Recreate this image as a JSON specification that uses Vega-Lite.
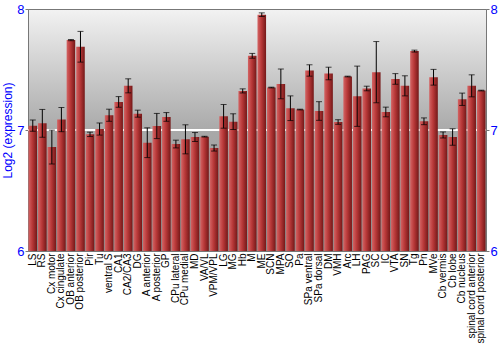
{
  "$schema": "https://vega.github.io/schema/vega-lite/v6.json",
  "width": 458,
  "height": 242,
  "autosize": "none",
  "padding": {"left": 28, "top": 9, "right": 14, "bottom": 99},
  "background": "white",
  "config": {
    "font": "Liberation Sans",
    "view": {
      "stroke": "#777777",
      "fill": {"gradient": "linear", "x1": 0, "y1": 0, "x2": 0, "y2": 1,
        "stops": [{"offset": 0, "color": "#f2f2f2"}, {"offset": 0.5, "color": "#a9a9a9"}, {"offset": 1, "color": "#8c8c8c"}]}
    }
  },
  "data": {"values": [
    {"r": "LS", "v": 7.036, "lo": 6.989, "hi": 7.083},
    {"r": "RS", "v": 7.055, "lo": 6.94, "hi": 7.17},
    {"r": "Cx motor", "v": 6.859, "lo": 6.719, "hi": 6.999},
    {"r": "Cx cingulate", "v": 7.086, "lo": 6.986, "hi": 7.186},
    {"r": "OB anterior", "v": 7.743, "lo": 7.738, "hi": 7.748},
    {"r": "OB posterior", "v": 7.688, "lo": 7.561, "hi": 7.815},
    {"r": "Pir", "v": 6.964, "lo": 6.946, "hi": 6.982},
    {"r": "Tu", "v": 7.008, "lo": 6.958, "hi": 7.058},
    {"r": "ventral S", "v": 7.122, "lo": 7.072, "hi": 7.172},
    {"r": "CA1", "v": 7.232, "lo": 7.188, "hi": 7.276},
    {"r": "CA2/CA3", "v": 7.365, "lo": 7.307, "hi": 7.423},
    {"r": "DG", "v": 7.135, "lo": 7.106, "hi": 7.164},
    {"r": "A anterior", "v": 6.895, "lo": 6.772, "hi": 7.018},
    {"r": "A posterior", "v": 7.033, "lo": 6.929, "hi": 7.137},
    {"r": "GP", "v": 7.108, "lo": 7.072, "hi": 7.144},
    {"r": "CPu lateral", "v": 6.884, "lo": 6.852, "hi": 6.916},
    {"r": "CPu medial", "v": 6.923, "lo": 6.803, "hi": 7.043},
    {"r": "MD", "v": 6.942, "lo": 6.905, "hi": 6.979},
    {"r": "VA/VL", "v": 6.945, "lo": 6.942, "hi": 6.948},
    {"r": "VPM/VPL", "v": 6.851, "lo": 6.826, "hi": 6.876},
    {"r": "LG", "v": 7.113, "lo": 7.015, "hi": 7.211},
    {"r": "MG", "v": 7.069, "lo": 7.004, "hi": 7.134},
    {"r": "Hb", "v": 7.323, "lo": 7.306, "hi": 7.34},
    {"r": "M", "v": 7.613, "lo": 7.593, "hi": 7.633},
    {"r": "ME", "v": 7.953, "lo": 7.938, "hi": 7.968},
    {"r": "SCN", "v": 7.351, "lo": 7.348, "hi": 7.354},
    {"r": "MPA", "v": 7.381, "lo": 7.258, "hi": 7.504},
    {"r": "SO", "v": 7.18, "lo": 7.078, "hi": 7.282},
    {"r": "Pa", "v": 7.169, "lo": 7.166, "hi": 7.172},
    {"r": "SPa ventral", "v": 7.492, "lo": 7.445, "hi": 7.539},
    {"r": "SPa dorsal", "v": 7.157, "lo": 7.08, "hi": 7.234},
    {"r": "DM", "v": 7.467, "lo": 7.415, "hi": 7.519},
    {"r": "VMH", "v": 7.066, "lo": 7.047, "hi": 7.085},
    {"r": "Arc", "v": 7.442, "lo": 7.439, "hi": 7.445},
    {"r": "LH", "v": 7.279, "lo": 7.03, "hi": 7.528},
    {"r": "PAG", "v": 7.343, "lo": 7.324, "hi": 7.362},
    {"r": "SC", "v": 7.478, "lo": 7.225, "hi": 7.731},
    {"r": "IC", "v": 7.149, "lo": 7.109, "hi": 7.189},
    {"r": "VTA", "v": 7.422, "lo": 7.378, "hi": 7.466},
    {"r": "SN", "v": 7.365, "lo": 7.282, "hi": 7.448},
    {"r": "Tg", "v": 7.652, "lo": 7.644, "hi": 7.66},
    {"r": "Pn", "v": 7.072, "lo": 7.044, "hi": 7.1},
    {"r": "MVe", "v": 7.436, "lo": 7.371, "hi": 7.501},
    {"r": "Cb vermis", "v": 6.959, "lo": 6.934, "hi": 6.984},
    {"r": "Cb lobe", "v": 6.942, "lo": 6.874, "hi": 7.01},
    {"r": "Cb nucleus", "v": 7.254, "lo": 7.203, "hi": 7.305},
    {"r": "spinal cord anterior", "v": 7.365, "lo": 7.274, "hi": 7.456},
    {"r": "spinal cord posterior", "v": 7.326, "lo": 7.323, "hi": 7.329}
  ]},
  "encoding": {
    "x": {"field": "r", "type": "nominal", "sort": null,
      "scale": {"paddingInner": 0.1, "paddingOuter": 0.05},
      "axis": {"title": null, "labelAngle": -90, "labelAlign": "right", "labelBaseline": "middle", "labelFontSize": 10, "labelColor": "black", "ticks": false, "domain": false, "labelPadding": 2, "labelOverlap": false}}
  },
  "layer": [
    {
      "layer": [
        {
          "mark": {"type": "rule", "color": "white", "strokeWidth": 1.5},
          "encoding": {"x": null, "y": {"datum": 7, "type": "quantitative", "scale": {"domain": [6, 8], "zero": false, "nice": false},
              "axis": {"orient": "left", "title": "Log2 (expression)", "titleColor": "blue", "titleFontSize": 12, "titleFontWeight": "normal", "titlePadding": 2, "tickCount": 2, "format": "d", "labelColor": "blue", "labelFontSize": 13, "labelOverlap": false, "labelFlush": false, "labelPadding": 1, "domainColor": "#777777", "tickColor": "#777777", "tickSize": 3, "grid": false}}}
        },
        {
          "mark": {"type": "bar", "color": {"gradient": "linear", "x1": 0, "y1": 0, "x2": 1, "y2": 0,
            "stops": [{"offset": 0, "color": "#d46464"}, {"offset": 0.45, "color": "#b83838"}, {"offset": 1, "color": "#741818"}]}},
          "encoding": {
            "y": {"field": "v", "type": "quantitative", "scale": {"domain": [6, 8], "zero": false, "nice": false}},
            "y2": {"datum": 6}
          }
        },
        {
          "mark": {"type": "rule", "color": "black", "strokeWidth": 1},
          "encoding": {
            "y": {"field": "lo", "type": "quantitative", "scale": {"domain": [6, 8], "zero": false, "nice": false}},
            "y2": {"field": "hi"}
          }
        },
        {
          "mark": {"type": "tick", "color": "black", "size": 6, "thickness": 1, "orient": "horizontal"},
          "encoding": {"y": {"field": "lo", "type": "quantitative", "scale": {"domain": [6, 8], "zero": false, "nice": false}}}
        }
      ]
    },
    {
      "mark": {"type": "tick", "color": "black", "size": 6, "thickness": 1, "orient": "horizontal"},
      "encoding": {"y": {"field": "hi", "type": "quantitative", "scale": {"domain": [6, 8], "zero": false, "nice": false},
          "axis": {"orient": "right", "title": null, "tickCount": 2, "format": "d", "labelColor": "blue", "labelFontSize": 13, "labelOverlap": false, "labelFlush": false, "labelPadding": 1, "domainColor": "#777777", "tickColor": "#777777", "tickSize": 3, "grid": false}}}
    }
  ],
  "resolve": {"scale": {"y": "independent"}}
}
